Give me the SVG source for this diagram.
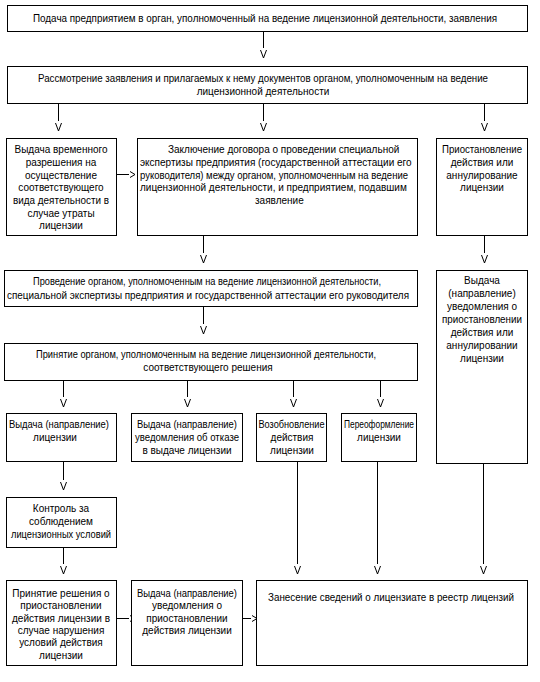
<svg xmlns="http://www.w3.org/2000/svg" width="540" height="682" viewBox="0 0 540 682">
<style>
rect{fill:#fff;stroke:#000;stroke-width:1}
text{font-family:"Liberation Sans","DejaVu Sans",sans-serif;font-size:10px;fill:#000}
.c{text-anchor:middle}
.ln{stroke:#000;stroke-width:1;fill:none}
</style>
<defs>
<path id="v" class="ln" d="M-3,0 L0,8 L3,0"/>
<path id="r" class="ln" d="M0,-3 L5,0 L0,3"/>
</defs>
<rect x="0" y="0" width="540" height="682" style="stroke:none"/>
<g id="connectors">
<line class="ln" x1="263.5" y1="31" x2="263.5" y2="48"/><use href="#v" x="263.5" y="50"/>
<line class="ln" x1="58.5" y1="103" x2="58.5" y2="121"/><use href="#v" x="58.5" y="123"/>
<line class="ln" x1="263.5" y1="103" x2="263.5" y2="121"/><use href="#v" x="263.5" y="123"/>
<line class="ln" x1="484.5" y1="103" x2="484.5" y2="121"/><use href="#v" x="484.5" y="123"/>
<line class="ln" x1="116" y1="174.5" x2="129" y2="174.5"/><use href="#r" x="130" y="174.5"/>
<line class="ln" x1="203.5" y1="235" x2="203.5" y2="253"/><use href="#v" x="203.5" y="255"/>
<line class="ln" x1="484.5" y1="235" x2="484.5" y2="253"/><use href="#v" x="484.5" y="255"/>
<line class="ln" x1="203.5" y1="306" x2="203.5" y2="324"/><use href="#v" x="203.5" y="326"/>
<line class="ln" x1="63.5" y1="380" x2="63.5" y2="397"/><use href="#v" x="63.5" y="399"/>
<line class="ln" x1="187.5" y1="380" x2="187.5" y2="397"/><use href="#v" x="187.5" y="399"/>
<line class="ln" x1="293.5" y1="380" x2="293.5" y2="397"/><use href="#v" x="293.5" y="399"/>
<line class="ln" x1="380.5" y1="380" x2="380.5" y2="397"/><use href="#v" x="380.5" y="399"/>
<line class="ln" x1="63.5" y1="461" x2="63.5" y2="480"/><use href="#v" x="63.5" y="482"/>
<line class="ln" x1="63.5" y1="547" x2="63.5" y2="564"/><use href="#v" x="63.5" y="566"/>
<line class="ln" x1="297.5" y1="461" x2="297.5" y2="564"/><use href="#v" x="297.5" y="566"/>
<line class="ln" x1="377.5" y1="461" x2="377.5" y2="564"/><use href="#v" x="377.5" y="566"/>
<line class="ln" x1="483.5" y1="463" x2="483.5" y2="564"/><use href="#v" x="483.5" y="566"/>
<line class="ln" x1="116" y1="618.5" x2="129" y2="618.5"/><use href="#r" x="130" y="618.5"/>
<line class="ln" x1="242" y1="618.5" x2="251" y2="618.5"/><use href="#r" x="252" y="618.5"/>
</g>
<g id="n1"><rect x="7.5" y="5.5" width="520" height="26"/>
<text class="c" x="265" y="22" textLength="464" lengthAdjust="spacingAndGlyphs">Подача предприятием в орган, уполномоченный на ведение лицензионной деятельности, заявления</text></g>
<g id="n2"><rect x="7.5" y="66.5" width="520" height="37"/>
<text class="c" x="263" y="82" textLength="450" lengthAdjust="spacingAndGlyphs">Рассмотрение заявления и прилагаемых к нему документов органом, уполномоченным на ведение</text>
<text class="c" x="263" y="95">лицензионной деятельности</text></g>
<g id="n3"><rect x="6.5" y="138.5" width="110" height="97"/>
<text class="c" x="61" y="153">Выдача временного</text>
<text class="c" x="61" y="166">разрешения на</text>
<text class="c" x="61" y="179">осуществление</text>
<text class="c" x="61" y="191">соответствующего</text>
<text class="c" x="61" y="204" textLength="96" lengthAdjust="spacingAndGlyphs">вида деятельности в</text>
<text class="c" x="61" y="217">случае утраты</text>
<text class="c" x="61" y="229">лицензии</text></g>
<g id="n4"><rect x="137.5" y="138.5" width="280" height="97"/>
<text x="168" y="153">Заключение договора о проведении специальной</text>
<text x="140" y="166">экспертизы предприятия (государственной аттестации его</text>
<text x="140" y="179" textLength="268" lengthAdjust="spacingAndGlyphs">руководителя) между органом, уполномоченным на ведение</text>
<text x="140" y="191">лицензионной деятельности, и предприятием, подавшим</text>
<text x="255" y="204">заявление</text></g>
<g id="n5"><rect x="436.5" y="138.5" width="91" height="97"/>
<text class="c" x="482" y="153" textLength="80" lengthAdjust="spacingAndGlyphs">Приостановление</text>
<text class="c" x="482" y="166">действия или</text>
<text class="c" x="482" y="179">аннулирование</text>
<text class="c" x="482" y="191">лицензии</text></g>
<g id="n6"><rect x="4.5" y="270.5" width="413" height="36"/>
<text class="c" x="207" y="285" textLength="348" lengthAdjust="spacingAndGlyphs">Проведение органом, уполномоченным на ведение лицензионной деятельности,</text>
<text class="c" x="208" y="299" textLength="402" lengthAdjust="spacingAndGlyphs">специальной экспертизы предприятия и государственной аттестации его руководителя</text></g>
<g id="n7"><rect x="436.5" y="270.5" width="91" height="193"/>
<text class="c" x="482" y="284">Выдача</text>
<text class="c" x="482" y="297">(направление)</text>
<text class="c" x="482" y="310">уведомления о</text>
<text class="c" x="482" y="323" textLength="80" lengthAdjust="spacingAndGlyphs">приостановлении</text>
<text class="c" x="482" y="336">действия или</text>
<text class="c" x="482" y="349">аннулировании</text>
<text class="c" x="482" y="362">лицензии</text></g>
<g id="n8"><rect x="4.5" y="343.5" width="413" height="37"/>
<text class="c" x="206" y="358" textLength="340" lengthAdjust="spacingAndGlyphs">Принятие органом, уполномоченным на ведение лицензионной деятельности,</text>
<text class="c" x="208" y="371">соответствующего решения</text></g>
<g id="n9"><rect x="6.5" y="413.5" width="110" height="48"/>
<text class="c" x="59" y="428" textLength="100" lengthAdjust="spacingAndGlyphs">Выдача (направление)</text>
<text class="c" x="55" y="441">лицензии</text></g>
<g id="n10"><rect x="131.5" y="413.5" width="111" height="48"/>
<text class="c" x="187" y="428" textLength="100" lengthAdjust="spacingAndGlyphs">Выдача (направление)</text>
<text class="c" x="187" y="441" textLength="104" lengthAdjust="spacingAndGlyphs">уведомления об отказе</text>
<text class="c" x="187" y="454">в выдаче лицензии</text></g>
<g id="n11"><rect x="256.5" y="413.5" width="70" height="48"/>
<text class="c" x="291.5" y="428" textLength="66" lengthAdjust="spacingAndGlyphs">Возобновление</text>
<text class="c" x="292" y="441">действия</text>
<text class="c" x="292" y="454">лицензии</text></g>
<g id="n12"><rect x="341.5" y="413.5" width="75" height="48"/>
<text class="c" x="379" y="428" textLength="70" lengthAdjust="spacingAndGlyphs">Переоформление</text>
<text class="c" x="379" y="441">лицензии</text></g>
<g id="n13"><rect x="6.5" y="497.5" width="110" height="50"/>
<text class="c" x="61" y="512">Контроль за</text>
<text class="c" x="61" y="525">соблюдением</text>
<text class="c" x="61" y="538" textLength="100" lengthAdjust="spacingAndGlyphs">лицензионных условий</text></g>
<g id="n14"><rect x="6.5" y="580.5" width="110" height="85"/>
<text class="c" x="61" y="597">Принятие решения о</text>
<text class="c" x="61" y="609">приостановлении</text>
<text class="c" x="61" y="622" textLength="98" lengthAdjust="spacingAndGlyphs">действия лицензии в</text>
<text class="c" x="61" y="634">случае нарушения</text>
<text class="c" x="61" y="646">условий действия</text>
<text class="c" x="61" y="659">лицензии</text></g>
<g id="n15"><rect x="131.5" y="580.5" width="111" height="85"/>
<text class="c" x="187" y="597" textLength="100" lengthAdjust="spacingAndGlyphs">Выдача (направление)</text>
<text class="c" x="187" y="609">уведомления о</text>
<text class="c" x="187" y="622">приостановлении</text>
<text class="c" x="187" y="634">действия лицензии</text></g>
<g id="n16"><rect x="256.5" y="580.5" width="271" height="85"/>
<text class="c" x="391" y="601" textLength="246" lengthAdjust="spacingAndGlyphs">Занесение сведений о лицензиате в реестр лицензий</text></g>
</svg>
